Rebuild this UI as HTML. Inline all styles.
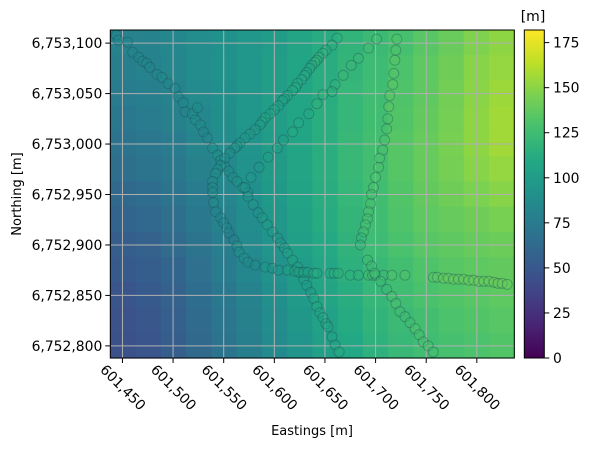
<!DOCTYPE html>
<html><head><meta charset="utf-8"><style>
html,body{margin:0;padding:0;background:#fff;}
svg text{font-family:"DejaVu Sans","Liberation Sans",sans-serif;fill:#000;}
</style></head><body>
<svg id="chart" width="590" height="448" viewBox="0 0 590 448" xmlns="http://www.w3.org/2000/svg">
<g id="heat"></g>
<g id="grid"></g>
<g id="pts"></g>
<rect x="110.3" y="30" width="404" height="328" fill="none" stroke="#000" stroke-width="1"/>
<g id="xticks"></g>
<g id="yticks"></g>
<text x="312" y="435" font-size="13" text-anchor="middle">Eastings [m]</text>
<text transform="translate(21,194) rotate(-90)" font-size="13" text-anchor="middle">Northing [m]</text>
<defs><linearGradient id="vir" x1="0" y1="1" x2="0" y2="0"></linearGradient></defs>
<rect x="524.3" y="30" width="20" height="328" fill="url(#vir)" stroke="#000" stroke-width="1"/>
<g id="cticks"></g>
<text x="533" y="21" font-size="14" text-anchor="middle">[m]</text>
</svg>
<script>
// ---- data ----
const xTicks = [601450,601500,601550,601600,601650,601700,601750,601800];
const yTicks = [6752800,6752850,6752900,6752950,6753000,6753050,6753100];
const cTicks = [0,25,50,75,100,125,150,175];
const xDomain = [601438, 601837];
const yDomain = [6752788, 6753113];
const cDomain = [0, 182];
// heat grid rows from north (top) to south (bottom)
const heatRows = [
[80,81,84,88,91,95,100,106,112,118,123,128,134,140,147,151],
[78,80,83,87,91,95,101,107,113,119,124,130,136,142,149,153],
[76,78,81,86,90,95,101,107,113,120,125,131,137,143,150,155],
[73,75,79,84,89,95,101,107,114,120,126,132,138,144,151,156],
[70,72,76,82,87,94,100,107,114,121,127,133,139,145,151,156],
[66,69,73,79,85,92,99,106,114,121,127,133,139,144,149,153],
[62,65,69,76,83,90,97,105,113,120,126,132,138,142,146,149],
[58,61,66,73,80,88,96,104,112,119,125,131,136,139,142,145],
[54,57,63,70,77,86,94,102,110,117,124,129,134,137,139,141],
[51,54,59,67,75,84,92,100,108,115,122,127,131,134,136,138],
[48,51,57,65,73,81,90,98,106,113,120,125,129,132,134,136],
[46,49,55,63,71,79,88,96,104,111,118,123,127,130,132,134],
[45,48,54,62,70,78,86,94,102,109,116,121,125,128,130,132]];
const pathAE = [601444,601446,601455,601460,601466,601470,601474,601477,601484,601489,601495,601502,601505,601510,601512,601519,601524,601522,601527,601530,601534,601539,601544,601547,601551,601555,601559,601563,601569,601574,601574,601579,601584,601588,601593,601598,601603,601606,601610,601613,601618,601623,601626,601629,601632,601636,601639,601642,601645,601648,601651,601653,601657,601660,601664];
const pathAN = [6753108,6753103,6753101,6753091,6753086,6753082,6753080,6753076,6753069,6753066,6753060,6753055,6753047,6753041,6753032,6753030,6753036,6753024,6753019,6753012,6753006,6752996,6752989,6752984,6752978,6752973,6752967,6752963,6752957,6752952,6752948,6752940,6752932,6752927,6752920,6752913,6752907,6752902,6752897,6752892,6752885,6752878,6752873,6752866,6752860,6752853,6752847,6752839,6752833,6752828,6752822,6752819,6752809,6752801,6752794];
const pathBE = [601662,601657,601651,601648,601644,601642,601640,601637,601635,601632,601630,601627,601623,601621,601618,601613,601610,601608,601604,601600,601596,601591,601588,601586,601581,601576,601571,601566,601563,601561,601556,601551,601547,601544,601542,601539,601539,601539,601540,601542,601547,601550,601553,601555,601560,601563,601565,601570,601574,601581,601591,601598,601604,601613,601620,601624,601629,601633,601639,601642,601655,601659,601663,601675,601683,601693,601697,601700,601708,601716,601729,601757,601761,601767,601772,601777,601782,601787,601792,601797,601802,601807,601812,601817,601821,601825,601830];
const pathBN = [6753105,6753098,6753093,6753090,6753086,6753083,6753081,6753078,6753075,6753071,6753068,6753064,6753060,6753056,6753053,6753048,6753045,6753043,6753038,6753034,6753030,6753026,6753022,6753019,6753014,6753010,6753006,6753001,6752998,6752996,6752991,6752986,6752979,6752975,6752971,6752963,6752957,6752952,6752942,6752933,6752927,6752922,6752917,6752912,6752905,6752899,6752893,6752887,6752883,6752880,6752878,6752877,6752875,6752875,6752874,6752873,6752873,6752873,6752872,6752872,6752872,6752872,6752872,6752870,6752870,6752870,6752870,6752870,6752870,6752870,6752870,6752868,6752868,6752867,6752867,6752866,6752866,6752866,6752865,6752865,6752864,6752864,6752864,6752863,6752862,6752862,6752861];
const pathCE = [601701,601693,601683,601676,601668,601660,601657,601648,601642,601634,601624,601618,601609,601603,601594,601585,601577,601571];
const pathCN = [6753104,6753095,6753085,6753078,6753068,6753059,6753052,6753049,6753040,6753030,6753021,6753012,6753004,6752996,6752987,6752977,6752967,6752957];
const pathDE = [601721,601720,601719,601718,601717,601714,601713,601712,601711,601709,601707,601704,601703,601700,601698,601696,601695,601693,601692,601690,601688,601686,601685,601692,601696,601699,601705,601711,601716,601720,601724,601729,601734,601739,601743,601747,601752,601757];
const pathDN = [6753104,6753093,6753083,6753070,6753059,6753048,6753037,6753025,6753015,6753004,6752994,6752986,6752977,6752967,6752957,6752950,6752941,6752933,6752926,6752920,6752913,6752907,6752900,6752885,6752879,6752872,6752864,6752856,6752849,6752842,6752834,6752829,6752823,6752817,6752811,6752804,6752800,6752794];

// ---- scales ----
const PL=110.3, PR=514.3, PT=30, PB=358;
const sx = v => PL + (v - xDomain[0]) / (xDomain[1]-xDomain[0]) * (PR-PL);
const sy = v => PB - (v - yDomain[0]) / (yDomain[1]-yDomain[0]) * (PB-PT);
const sc = v => PB - (v - cDomain[0]) / (cDomain[1]-cDomain[0]) * (PB-PT);
const VIR = ["#440154","#482475","#414487","#355f8d","#2a788e","#21918c","#22a884","#44bf70","#7ad151","#bddf26","#fde725"];
function hex(h){return [parseInt(h.slice(1,3),16),parseInt(h.slice(3,5),16),parseInt(h.slice(5,7),16)];}
function viridis(t){t=Math.max(0,Math.min(1,t));const f=t*10,i=Math.min(9,Math.floor(f)),r=f-i;const a=hex(VIR[i]),b=hex(VIR[i+1]);return `rgb(${a.map((c,k)=>Math.round(c+(b[k]-c)*r)).join(',')})`;}
const cnorm = v => (v - cDomain[0])/(cDomain[1]-cDomain[0]);
const NS="http://www.w3.org/2000/svg";
function mk(tag, attrs, parent){const e=document.createElementNS(NS,tag);for(const k in attrs)e.setAttribute(k,attrs[k]);parent.appendChild(e);return e;}

// heatmap
const heat=document.getElementById('heat');
const nR=heatRows.length, nC=heatRows[0].length;
const cw=(PR-PL)/nC, ch=(PB-PT)/nR;
heatRows.forEach((row,r)=>row.forEach((v,c)=>{
  const e=mk('rect',{x:PL+c*cw,y:PT+r*ch,width:cw+0.6,height:ch+0.6,fill:viridis(cnorm(v))},heat);
  
  
}));
function heatAt(E,N){const c=Math.max(0,Math.min(nC-1,Math.floor((sx(E)-PL)/cw)));const r=Math.max(0,Math.min(nR-1,Math.floor((sy(N)-PT)/ch)));return heatRows[r][c];}

// grid
const grid=document.getElementById('grid');
xTicks.forEach(t=>{const e=mk('line',{x1:sx(t),x2:sx(t),y1:PT,y2:PB,stroke:'#b0b0b0','stroke-width':1},grid);
  
  });
yTicks.forEach(t=>{const e=mk('line',{x1:PL,x2:PR,y1:sy(t),y2:sy(t),stroke:'#b0b0b0','stroke-width':1},grid);
  
  });

// points
const pts=document.getElementById('pts');
[[pathAE,pathAN,'path-a'],[pathBE,pathBN,'path-b'],[pathCE,pathCN,'path-c'],[pathDE,pathDN,'path-d']].forEach(([es,ns,nm])=>{
  es.forEach((E,i)=>{const N=ns[i];
    const e=mk('circle',{cx:sx(E),cy:sy(N),r:5,fill:viridis(cnorm(heatAt(E,N)+4)),'fill-opacity':0.45,stroke:'#1e4a50','stroke-opacity':0.35,'stroke-width':1},pts);
    
    
  });
});

// x ticks
const xg=document.getElementById('xticks');
xTicks.forEach(t=>{
  const l=mk('line',{x1:sx(t),x2:sx(t),y1:PB,y2:PB+5,stroke:'#000'},xg);
  
  
  const tx=mk('text',{transform:`translate(${sx(t)},${388}) rotate(45)`,'font-size':13.9,'text-anchor':'middle','dominant-baseline':'middle'},xg);
  tx.textContent=t.toLocaleString('en-US');
  
  
});
// y ticks
const yg=document.getElementById('yticks');
yTicks.forEach(t=>{
  const l=mk('line',{x1:PL-5,x2:PL,y1:sy(t),y2:sy(t),stroke:'#000'},yg);
  
  
  const tx=mk('text',{x:PL-8,y:sy(t)+5,'font-size':13.9,'text-anchor':'end'},yg);
  tx.textContent=t.toLocaleString('en-US');
  
  
});
// colorbar
const grad=document.getElementById('vir');
VIR.forEach((c,i)=>mk('stop',{offset:(i/10*100)+'%','stop-color':c},grad));
const cg=document.getElementById('cticks');
cTicks.forEach(t=>{
  const l=mk('line',{x1:544.3,x2:549.3,y1:sc(t),y2:sc(t),stroke:'#000'},cg);
  
  
  const tx=mk('text',{x:553,y:sc(t)+5,'font-size':13.9},cg);
  tx.textContent=String(t);
  
  
});
</script>
</body></html>
